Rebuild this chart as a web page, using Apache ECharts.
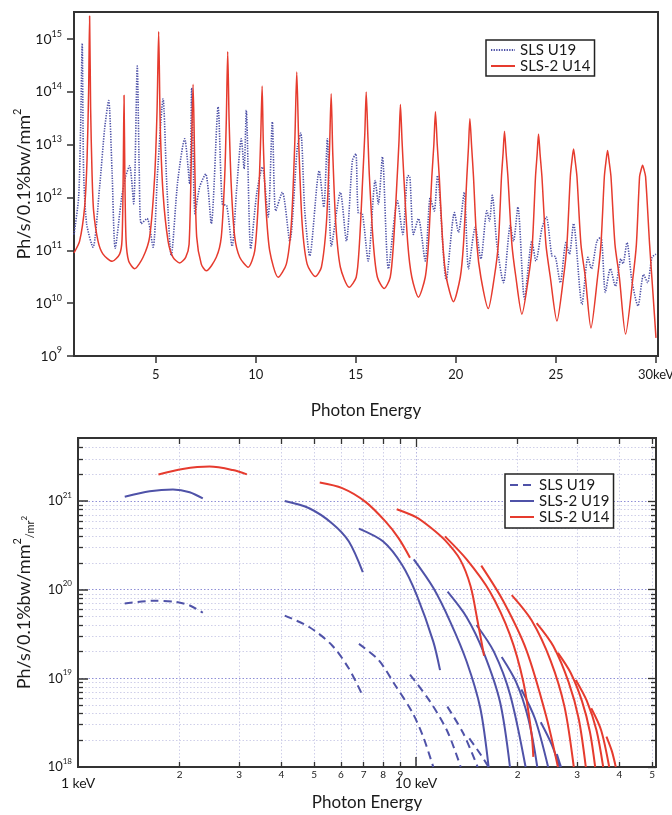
<!DOCTYPE html>
<html><head><meta charset="utf-8">
<script src="https://cdn.jsdelivr.net/npm/echarts@6/dist/echarts.min.js"></script>
<style>html,body{margin:0;padding:0;background:#fff}#c{width:672px;height:815px}</style>
</head><body><div id="c"></div>
<script>
// ---------- top chart data ----------
const topEnergyTicks = [5, 10, 15, 20, 25, 30];
const topFluxTicks = [1e9, 1e10, 1e11, 1e12, 1e13, 1e14, 1e15];
const topSLSU19 = [
[0.92,2.0e11],[1.15,1.0e12],[1.25,2.0e13],[1.33,8.3e14],[1.4,3.2e12],[1.55,3.2e11],[1.87,1.15e11],
[2.2,1.6e12],[2.45,2.0e13],[2.65,6.9e13],[2.82,3.2e12],[2.98,1.1e11],[3.3,1.0e12],[3.5,2.5e12],
[3.7,4.0e12],[3.9,7.6e11],[4.08,3.1e14],[4.18,3.2e12],[4.28,3.2e11],[4.57,4.0e11],[4.87,1.15e11],
[5.1,3.2e12],[5.37,7.4e13],[5.55,2.0e12],[5.78,7.9e10],[6.1,2.0e12],[6.45,1.3e13],[6.7,1.8e12],
[6.8,1.2e14],[6.97,4.9e11],[7.2,1.6e12],[7.5,2.8e12],[7.78,3.2e11],[8.12,5.2e13],[8.33,7.6e11],
[8.55,7.0e11],[8.82,1.2e11],[9.05,1.5e12],[9.28,1.3e13],[9.42,3.5e12],[9.53,4.5e13],[9.75,1.07e11],
[10.05,1.2e12],[10.33,3.8e12],[10.62,4.3e11],[10.83,2.7e13],[11.0,5.6e11],[11.33,1.26e12],[11.7,1.5e11],
[12.08,9.1e12],[12.25,1.66e13],[12.45,5.6e11],[12.7,7.9e10],[13.17,3.2e12],[13.4,6.6e11],[13.58,1.3e13],
[13.78,1.2e11],[14.23,1.26e12],[14.53,1.5e11],[14.83,5.0e12],[15.0,6.8e12],[15.12,5.2e11],[15.33,4.9e11],
[15.62,6.3e10],[15.97,2.1e12],[16.13,7.6e11],[16.33,5.9e12],[16.63,4.5e10],[17.08,8.7e11],[17.35,2.0e11],
[17.6,2.6e12],[17.7,2.5e12],[17.88,2.0e11],[18.13,4.0e11],[18.47,6.3e10],[18.72,1.0e12],[18.92,5.6e11],
[19.08,2.6e12],[19.52,2.75e10],[19.93,5.2e11],[20.13,2.2e11],[20.42,1.26e12],[20.63,4.5e10],[20.97,2.75e11],
[21.25,6.9e10],[21.55,5.6e11],[21.68,3.6e11],[21.82,1.1e12],[22.05,1.3e11],[22.38,2.45e10],[22.72,2.95e11],
[22.88,1.5e11],[23.1,6.6e11],[23.43,1.2e10],[23.8,1.5e11],[24.0,6.3e10],[24.3,2.6e11],[24.52,4.3e11],
[24.8,7.9e10],[24.97,7.6e10],[25.22,2.45e10],[25.5,1.4e11],[25.67,8.5e10],[25.88,3.2e11],[26.3,9.5e9],
[26.6,7.4e10],[26.77,4.5e10],[27.05,1.5e11],[27.25,1.8e11],[27.47,1.6e10],[27.72,4.5e10],[27.97,2.1e10],
[28.25,6.9e10],[28.35,5.6e10],[28.55,1.4e11],[28.8,2.6e10],[29.1,8.9e9],[29.38,3.5e10],[29.58,2.45e10],
[29.8,7.4e10],[30.0,8.5e10]
];
const topSLS2U14 = [
[0.92,9.0e10],[1.2,1.5e11],[1.45,6.6e11],[1.57,5.0e12],[1.65,1.0e14],[1.70,2.75e15],[1.75,5.0e13],
[1.82,3.0e12],[1.9,5.6e11],[2.12,1.5e11],[2.37,8.5e10],[2.83,6.2e10],[3.2,8.5e10],[3.32,1.6e11],
[3.38,3.0e12],[3.42,8.7e13],[3.46,3.0e12],[3.52,1.6e11],[3.65,6.3e10],[3.95,4.5e10],[4.37,7.4e10],
[4.7,1.8e11],[4.95,2.5e12],[5.07,4.5e13],[5.15,1.4e15],[5.23,2.2e13],[5.37,1.2e12],[5.62,1.5e11],
[5.87,7.4e10],[6.2,5.8e10],[6.5,7.4e10],[6.67,1.3e11],[6.78,5.0e12],[6.87,1.4e14],[6.95,5.0e12],
[7.05,1.8e11],[7.28,5.5e10],[7.53,4.1e10],[8.03,7.4e10],[8.28,1.8e11],[8.45,2.5e12],[8.53,2.9e13],
[8.6,5.8e14],[8.67,2.9e13],[8.78,1.6e12],[8.95,1.8e11],[9.2,7.4e10],[9.62,4.8e10],[9.95,9.8e10],
[10.15,1.2e12],[10.25,1.4e13],[10.32,1.3e14],[10.38,1.05e13],[10.5,7.6e11],[10.7,9.8e10],[11.12,3.1e10],
[11.53,5.5e10],[11.78,3.2e11],[11.95,1.05e13],[12.05,2.4e14],[12.15,1.05e13],[12.32,3.2e11],[12.57,5.5e10],
[12.98,3.2e10],[13.28,4.8e10],[13.53,3.2e11],[13.68,6.8e12],[13.77,9.3e13],[13.85,6.8e12],[14.0,3.2e11],
[14.23,4.8e10],[14.67,2.0e10],
[15.02,3.1e10],[15.18,1.3e11],[15.35,2.5e12],[15.45,1.6e13],[15.52,1.0e14],[15.6,1.6e13],[15.68,2.5e12],
[15.88,1.3e11],[16.08,3.1e10],[16.42,1.9e10],
[16.72,3.1e10],[16.88,1.3e11],[17.07,2.5e12],[17.16,1.2e13],[17.23,5.8e13],[17.31,1.2e13],[17.4,2.5e12],
[17.6,1.3e11],[17.8,3.1e10],[18.13,1.3e10],
[18.47,3.1e10],[18.63,1.3e11],[18.8,2.5e12],[18.9,1.0e13],[18.98,4.2e13],[19.07,1.0e13],[19.17,2.5e12],
[19.35,1.3e11],[19.52,3.1e10],[19.88,1.07e10],
[20.22,3.1e10],[20.38,1.3e11],[20.55,2.5e12],[20.63,9.0e12],[20.7,3.1e13],[20.79,9.0e12],[20.88,2.5e12],
[21.05,1.3e11],[21.25,3.1e10],[21.62,7.9e9],
[21.92,3.1e10],[22.12,1.3e11],[22.28,2.5e12],[22.36,7.0e12],[22.43,1.8e13],[22.51,7.0e12],[22.6,2.5e12],
[22.8,1.3e11],[23.0,3.1e10],[23.3,6.2e9],
[23.63,3.1e10],[23.82,1.3e11],[23.98,2.5e12],[24.06,6.5e12],[24.13,1.6e13],[24.21,6.5e12],[24.3,2.5e12],
[24.5,1.3e11],[24.72,3.1e10],[25.05,4.6e9],
[25.38,3.1e10],[25.55,1.3e11],[25.72,2.5e12],[25.8,5.0e12],[25.88,8.3e12],[25.96,5.0e12],[26.05,2.5e12],
[26.25,1.3e11],[26.47,3.1e10],[26.75,3.4e9],
[27.08,3.1e10],[27.25,1.3e11],[27.42,2.5e12],[27.5,4.8e12],[27.58,7.8e12],[27.66,4.8e12],[27.75,2.5e12],
[27.95,1.3e11],[28.17,3.1e10],[28.48,2.6e9],
[28.85,3.1e10],[29.02,1.3e11],[29.18,2.5e12],[29.26,3.4e12],[29.33,4.1e12],[29.4,3.4e12],[29.48,2.5e12],
[29.68,1.3e11],[29.85,1.5e10],[30.0,2.2e9]
];

// ---------- bottom chart data ----------
const bottomEnergyTicks = [1, 2, 3, 4, 5, 6, 7, 8, 9, 10, 20, 30, 40, 50];
const bottomEnergyMajor = [1, 10];
const bottomEnergyMinor = [2, 3, 4, 5, 6, 7, 8, 9, 20, 30, 40, 50];
const bottomBrillianceMajor = [1e18, 1e19, 1e20, 1e21];
const bottomBrillianceMinor = [2e18,3e18,4e18,5e18,6e18,7e18,8e18,9e18,
  2e19,3e19,4e19,5e19,6e19,7e19,8e19,9e19,
  2e20,3e20,4e20,5e20,6e20,7e20,8e20,9e20,
  2e21,3e21,4e21];
const bottomSLSU19 = [
 [[1.375,7.0e19],[1.67,7.5e19],[1.95,7.3e19],[2.15,6.6e19],[2.34,5.5e19]],
 [[4.09,5.1e19],[4.83,3.8e19],[5.65,2.35e19],[6.33,1.29e19],[6.9,6.8e18]],
 [[6.78,2.45e19],[7.76,1.6e19],[8.69,8.3e18],[9.73,4.2e18],[10.5,2.2e18],[11.25,1.0e18]],
 [[9.6,1.1e19],[11.0,5.5e18],[12.4,2.5e18],[13.56,1.0e18]],
 [[12.38,4.8e18],[13.8,2.4e18],[15.22,1.0e18]],
 [[14.38,2.1e18],[15.5,1.4e18],[16.4,1.0e18]]
];
const bottomSLS2U19 = [
 [[1.375,1.12e21],[1.63,1.29e21],[1.91,1.35e21],[2.14,1.26e21],[2.34,1.07e21]],
 [[4.09,1.0e21],[4.83,8.3e20],[5.65,5.6e20],[6.33,3.5e20],[6.96,1.58e20]],
 [[6.78,4.9e20],[8.0,3.5e20],[9.1,1.9e20],[10.05,8.7e19],[11.25,2.6e19],[11.78,1.24e19]],
 [[9.85,2.2e20],[11.25,1.05e20],[12.61,4.4e19],[14.12,1.55e19],[15.5,4.6e18],[16.4,1.0e18]],
 [[12.4,9.5e19],[14.12,4.9e19],[15.82,2.0e19],[17.73,5.4e18],[18.97,1.0e18]],
 [[15.1,4.0e19],[17.0,2.0e19],[19.0,6.5e18],[21.1,1.0e18]],
 [[17.93,1.74e19],[19.8,9.0e18],[21.5,3.5e18],[22.85,1.0e18]],
 [[20.5,7.5e18],[22.5,3.5e18],[24.6,1.0e18]],
 [[23.4,3.2e18],[25.2,1.8e18],[26.6,1.0e18]],
 [[26.1,1.4e18],[26.85,1.0e18]]
];
const bottomSLS2U14 = [
 [[1.73,2.0e21],[2.04,2.3e21],[2.45,2.45e21],[2.87,2.24e21],[3.16,2.0e21]],
 [[5.19,1.62e21],[6.05,1.4e21],[7.09,9.8e20],[8.12,5.9e20],[8.89,3.8e20],[9.6,2.3e20]],
 [[8.77,8.1e20],[10.0,6.6e20],[11.0,5.1e20],[12.2,3.6e20],[13.5,2.2e20],[14.5,1.1e20],[15.2,4.5e19],[15.9,1.8e19]],
 [[12.18,4.0e20],[14.12,2.2e20],[16.55,9.5e19],[18.97,3.1e19],[20.78,9.1e18],[21.99,2.3e18],[22.24,1.3e18]],
 [[15.6,1.87e20],[18.1,7.5e19],[21.2,2.1e19],[24.3,3.7e18],[26.3,1.0e18]],
 [[19.2,8.7e19],[22.0,4.5e19],[25.0,1.6e19],[27.5,4.8e18],[29.3,1.0e18]],
 [[22.75,4.2e19],[25.5,2.3e19],[28.3,9.0e18],[30.3,3.5e18],[31.8,1.0e18]],
 [[26.3,1.94e19],[28.7,1.15e19],[31.0,5.5e18],[32.7,2.5e18],[33.9,1.0e18]],
 [[29.7,9.6e18],[32.0,5.6e18],[34.2,2.6e18],[35.8,1.0e18]],
 [[33.0,4.6e18],[35.3,2.6e18],[37.3,1.0e18]],
 [[36.6,2.2e18],[38.0,1.5e18],[39.0,1.0e18]]
];

// ---------- styling ----------
const FONT = 'Lato, "Open Sans", sans-serif';
const INK = '#1a1a1a';
const FRAME = '#333';
const RED = '#e63b2e';
const BLUE = '#4f52a8';
const DOTBLUE = '#4b4fa6';

function sup10(v) {
  const e = Math.round(Math.log10(v));
  return '{b|10}{s|' + e + '}';
}
function supRich(base, sup) {
  return {
    b: { fontSize: base, lineHeight: 20, fontFamily: FONT, color: INK },
    s: { fontSize: sup, lineHeight: 8, verticalAlign: 'top', fontFamily: FONT, color: INK }
  };
}
function bottomEnergyLabel(v) {
  const r = Math.round(v);
  if (r === 1) return '{k|1 keV}';
  if (r === 10) return '{k|10 keV}';
  return '{d|' + (r >= 10 ? r / 10 : r) + '}';
}

const hidden = { show: false };
function extraAxis(pos, ticks, len, extent, split) {
  return Object.assign({
    gridIndex: 1, type: 'log', position: pos,
    axisLine: { show: false, onZero: false },
    axisTick: { show: true, inside: true, length: len, customValues: ticks, lineStyle: { color: FRAME, width: 1.3 } },
    axisLabel: hidden,
    splitLine: split || hidden,
    minorTick: hidden, minorSplitLine: hidden
  }, extent);
}
const xExt = { min: 1, max: 51.3 };
const yExt = { min: 1e18, max: 5.15e21 };
const minorGrid = { show: true, lineStyle: { type: [1.5, 2], color: '#c9c9e6', width: 0.9 } };
const majorGridY = { show: true, lineStyle: { type: [1.5, 2], color: '#8f8fd6', width: 1 } };
const majorGridX = { show: true, lineStyle: { type: [1.5, 2], color: '#b5b5e0', width: 1 } };

const series = [];
series.push({
  name: 'SLS U19', type: 'line', xAxisIndex: 0, yAxisIndex: 0, data: topSLSU19,
  symbol: 'none', smooth: 0.25, z: 2,
  lineStyle: { color: DOTBLUE, width: 1.6, type: [1.3, 1.3] }, itemStyle: { color: DOTBLUE }
});
series.push({
  name: 'SLS-2 U14', type: 'line', xAxisIndex: 0, yAxisIndex: 0, data: topSLS2U14,
  symbol: 'none', smooth: 0.25, z: 3,
  lineStyle: { color: RED, width: 1.5 }, itemStyle: { color: RED }
});
bottomSLSU19.forEach(seg => series.push({
  name: 'b:SLS U19', type: 'line', xAxisIndex: 1, yAxisIndex: 1, data: seg,
  symbol: 'none', smooth: 0.3, z: 2,
  lineStyle: { color: BLUE, width: 2, type: [8, 5] }, itemStyle: { color: BLUE }
}));
bottomSLS2U19.forEach(seg => series.push({
  name: 'b:SLS-2 U19', type: 'line', xAxisIndex: 1, yAxisIndex: 1, data: seg,
  symbol: 'none', smooth: 0.3, z: 3,
  lineStyle: { color: BLUE, width: 2 }, itemStyle: { color: BLUE }
}));
bottomSLS2U14.forEach(seg => series.push({
  name: 'b:SLS-2 U14', type: 'line', xAxisIndex: 1, yAxisIndex: 1, data: seg,
  symbol: 'none', smooth: 0.3, z: 4,
  lineStyle: { color: RED, width: 2 }, itemStyle: { color: RED }
}));

const legendCommon = {
  orient: 'vertical', itemGap: 0, itemWidth: 24, itemHeight: 10,
  borderColor: '#222', borderWidth: 1.5, backgroundColor: '#fff', selectedMode: false,
  itemStyle: { color: 'rgba(0,0,0,0)', borderColor: 'rgba(0,0,0,0)', borderWidth: 0 },
  textStyle: { fontSize: 15, lineHeight: 16, fontFamily: FONT, color: INK }
};

const option = {
  animation: false,
  backgroundColor: '#fff',
  textStyle: { fontFamily: FONT },
  grid: [
    { left: 74, top: 12, width: 584, height: 344, show: true, borderColor: FRAME, borderWidth: 2,
      containLabel: false, outerBoundsMode: 'none' },
    { left: 78, top: 438, width: 578, height: 329, show: true, borderColor: FRAME, borderWidth: 2,
      containLabel: false, outerBoundsMode: 'none' }
  ],
  legend: [
    Object.assign({ data: ['SLS U19', 'SLS-2 U14'], left: 486, top: 40, padding: [2, 4, 2, 4] }, legendCommon),
    Object.assign({ data: ['b:SLS U19', 'b:SLS-2 U19', 'b:SLS-2 U14'], left: 505, top: 474, padding: [3, 4, 3, 4],
      formatter: n => n.slice(2) }, legendCommon)
  ],
  xAxis: [
    { gridIndex: 0, type: 'value', min: 0.92, max: 30.1,
      axisLine: { show: true, onZero: false, lineStyle: { color: FRAME, width: 2 } },
      axisTick: { show: true, inside: false, length: 7, customValues: topEnergyTicks, lineStyle: { color: FRAME, width: 1.5 } },
      axisLabel: { customValues: topEnergyTicks, margin: 12, fontSize: 13, color: INK, fontFamily: FONT,
        formatter: v => Math.round(v) === 30 ? '30keV' : String(Math.round(v)) },
      splitLine: hidden, minorTick: hidden,
      name: 'Photon Energy', nameLocation: 'middle', nameGap: 46, nameMoveOverlap: false,
      nameTextStyle: { fontSize: 17, color: INK, fontFamily: FONT } },
    Object.assign({ gridIndex: 1, type: 'log', position: 'bottom',
      axisLine: { show: true, onZero: false, lineStyle: { color: FRAME, width: 2 } },
      axisTick: { show: true, inside: true, length: 10, customValues: bottomEnergyMajor, lineStyle: { color: FRAME, width: 1.5 } },
      axisLabel: { customValues: bottomEnergyTicks, margin: 3, color: INK, formatter: bottomEnergyLabel,
        rich: { k: { fontSize: 14, fontFamily: FONT, color: INK, padding: [6, 0, 0, 0] },
                d: { fontSize: 10, fontFamily: FONT, color: INK } } },
      splitLine: majorGridX, minorTick: hidden, minorSplitLine: hidden,
      name: 'Photon Energy', nameLocation: 'middle', nameGap: 27, nameMoveOverlap: false,
      nameTextStyle: { fontSize: 17, color: INK, fontFamily: FONT } }, xExt),
    extraAxis('bottom', bottomEnergyMinor, 5, xExt, minorGrid),
    extraAxis('top', bottomEnergyMajor, 9, xExt),
    extraAxis('top', bottomEnergyMinor, 6, xExt)
  ],
  yAxis: [
    { gridIndex: 0, type: 'log', min: 1e9, max: 3.27e15,
      axisLine: { show: true, onZero: false, lineStyle: { color: FRAME, width: 2 } },
      axisTick: { show: true, inside: false, length: 7, customValues: topFluxTicks, lineStyle: { color: FRAME, width: 1.5 } },
      axisLabel: { customValues: topFluxTicks, margin: 12, formatter: sup10, rich: supRich(14, 9) },
      splitLine: hidden, minorTick: hidden,
      name: 'Ph/s/0.1%bw/mm{sup|2}', nameLocation: 'middle', nameRotate: 90, nameGap: 38, nameMoveOverlap: false,
      nameTextStyle: { fontSize: 18, color: INK, fontFamily: FONT, lineHeight: 24,
        rich: { sup: { fontSize: 11, lineHeight: 10, verticalAlign: 'top', fontFamily: FONT, color: INK } } } },
    Object.assign({ gridIndex: 1, type: 'log', position: 'left',
      axisLine: { show: true, onZero: false, lineStyle: { color: FRAME, width: 2 } },
      axisTick: { show: true, inside: true, length: 10, customValues: bottomBrillianceMajor, lineStyle: { color: FRAME, width: 1.5 } },
      axisLabel: { customValues: bottomBrillianceMajor, margin: 6, formatter: sup10, rich: supRich(13, 8) },
      splitLine: majorGridY, minorTick: hidden, minorSplitLine: hidden,
      name: 'Ph/s/0.1%bw/mm{sup|2}{sm|/mr}{sup2|2}', nameLocation: 'middle', nameRotate: 90, nameGap: 42, nameMoveOverlap: false,
      nameTextStyle: { fontSize: 18, color: INK, fontFamily: FONT, lineHeight: 24,
        rich: { sup: { fontSize: 11, lineHeight: 10, verticalAlign: 'top', fontFamily: FONT, color: INK },
                sm: { fontSize: 11, lineHeight: 14, verticalAlign: 'bottom', fontFamily: FONT, color: INK },
                sup2: { fontSize: 8, lineHeight: 8, verticalAlign: 'middle', fontFamily: FONT, color: INK } } } }, yExt),
    extraAxis('left', bottomBrillianceMinor, 5, yExt, minorGrid),
    extraAxis('right', bottomBrillianceMajor, 8, yExt),
    extraAxis('right', bottomBrillianceMinor, 5, yExt)
  ],
  series: series
};

const chart = echarts.init(document.getElementById('c'), null, { renderer: 'canvas' });
chart.setOption(option);
</script></body></html>
